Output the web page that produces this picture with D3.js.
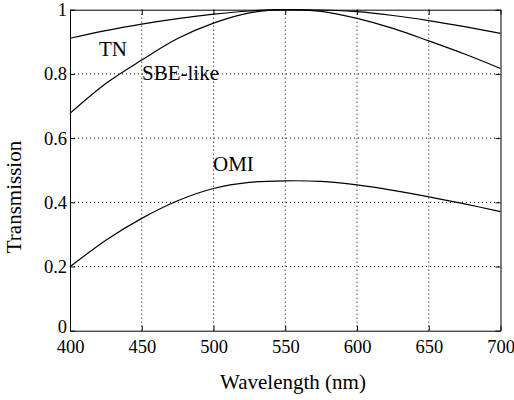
<!DOCTYPE html>
<html>
<head>
<meta charset="utf-8">
<script src="https://cdn.jsdelivr.net/npm/d3@7"></script>
<style>
  body { margin: 0; background: #fff; }
  .axis path, .axis line { stroke: #000; stroke-width: 1; }
  .axis text { fill: #000; }
  .grid line { stroke: #000; stroke-width: 1; stroke-dasharray: 1,3; }
  .curve { fill: none; stroke: #000; stroke-width: 1.2; }
  .label { font-size: 21px; fill: #000; }
</style>
</head>
<body>
<div id="chart"></div>
<script>
// wavelengths (nm) and transmission values
var wavelength = [400, 425, 450, 475, 500, 525, 550, 575, 600, 625, 650, 675, 700];
var tn  = [0.911, 0.935, 0.955, 0.972, 0.986, 0.996, 1.0, 0.999, 0.994, 0.982, 0.966, 0.947, 0.926];
var sbe = [0.677, 0.770, 0.843, 0.910, 0.958, 0.990, 1.0, 0.995, 0.973, 0.942, 0.903, 0.862, 0.817];
var omi = [0.199, 0.282, 0.350, 0.405, 0.443, 0.462, 0.467, 0.465, 0.454, 0.437, 0.417, 0.395, 0.371];

var xTicks = [400, 450, 500, 550, 600, 650, 700];
var yTicks = [0, 0.2, 0.4, 0.6, 0.8, 1];

var serif = "'Liberation Serif', 'Times New Roman', 'DejaVu Serif', serif";

function init(){

    var w = 514;
    var h = 400;
    var left = 70, right = 500.5, top = 9.7, bottom = 330.7;

    var svg = d3.select("#chart")
                .append("svg")
                .attr("width", w)
                .attr("height", h)
                .style("display", "block");

    var xScale = d3.scaleLinear().domain([400, 700]).range([left, right]);
    var yScale = d3.scaleLinear().domain([0, 1]).range([bottom, top]);

    // dotted grid
    svg.append("g").attr("class", "grid")
        .selectAll("line")
        .data(xTicks.slice(1, -1))
        .enter().append("line")
        .attr("x1", function(d) { return xScale(d); })
        .attr("x2", function(d) { return xScale(d); })
        .attr("y1", top).attr("y2", bottom);

    svg.append("g").attr("class", "grid")
        .selectAll("line")
        .data(yTicks.slice(1, -1))
        .enter().append("line")
        .attr("y1", function(d) { return yScale(d); })
        .attr("y2", function(d) { return yScale(d); })
        .attr("x1", left).attr("x2", right);

    // axes with inward ticks
    var fmt = function(d) { return String(d); };

    svg.append("g").attr("class", "axis")
        .attr("transform", "translate(0," + bottom + ")")
        .call(d3.axisBottom(xScale).tickValues(xTicks).tickSizeInner(-5).tickSizeOuter(0).tickPadding(9).tickFormat(fmt));

    svg.append("g").attr("class", "axis")
        .attr("transform", "translate(0," + top + ")")
        .call(d3.axisTop(xScale).tickValues(xTicks).tickSizeInner(-5).tickSizeOuter(0).tickFormat(""));

    var yAxis = svg.append("g").attr("class", "axis")
        .attr("transform", "translate(" + left + ",0)")
        .call(d3.axisLeft(yScale).tickValues(yTicks).tickSizeInner(-5).tickSizeOuter(0).tickPadding(3).tickFormat(fmt));

    svg.append("g").attr("class", "axis")
        .attr("transform", "translate(" + right + ",0)")
        .call(d3.axisRight(yScale).tickValues(yTicks).tickSizeInner(-5).tickSizeOuter(0).tickFormat(""));

    svg.selectAll(".axis").attr("font-family", serif).attr("font-size", 18.5);

    // nudge the "0" label up a little so it sits above "400"
    yAxis.selectAll(".tick text").filter(function(d) { return d === 0; }).attr("dy", "0.12em");

    // curves
    var line = d3.line()
                .curve(d3.curveCatmullRom)
                .x(function(d, i) { return xScale(wavelength[i]); })
                .y(function(d) { return yScale(d); });

    [tn, sbe, omi].forEach(function(s) {
        svg.append("path")
            .datum(s)
            .attr("class", "curve")
            .attr("d", line);
    });

    // curve labels
    function label(x, y, t) {
        return svg.append("text").attr("class", "label")
            .attr("font-family", serif)
            .attr("x", x).attr("y", y).text(t);
    }
    label(99, 56, "TN");
    label(142, 80, "SBE-like");
    label(213, 171, "OMI");

    // axis titles
    label(293, 389, "Wavelength (nm)").attr("text-anchor", "middle");
    label(0, 0, "Transmission")
        .attr("transform", "translate(21,197) rotate(-90)")
        .attr("text-anchor", "middle");
}
window.onload = init;
</script>
</body>
</html>
